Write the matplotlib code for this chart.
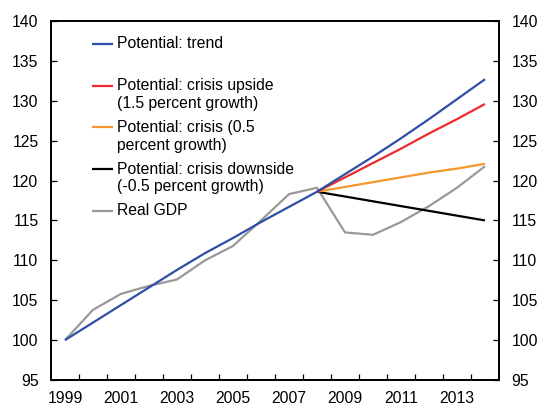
import matplotlib
matplotlib.use("Agg")
import matplotlib.pyplot as plt

plt.rcParams['font.family'] = ['Liberation Sans', 'DejaVu Sans']
plt.rcParams['font.size'] = 11.3

# Index, 1999 = 100
years = list(range(1999, 2015))
trend = [100.0, 102.2, 104.4, 106.6, 108.8, 110.9, 112.8, 114.8, 116.7, 118.6,
         120.8, 123.0, 125.3, 127.7, 130.2, 132.7]
real_gdp = [100.0, 103.8, 105.8, 106.8, 107.6, 110.0, 111.8, 115.0, 118.3, 119.1,
            113.5, 113.2, 114.8, 116.8, 119.1, 121.8]
# Crisis scenarios start from the 2008 trend level
crisis_years = list(range(2008, 2015))
crisis_up = [118.6, 120.4, 122.2, 124.0, 125.9, 127.7, 129.6]
crisis_mid = [118.6, 119.2, 119.8, 120.4, 121.0, 121.5, 122.1]
crisis_down = [118.6, 118.0, 117.4, 116.8, 116.2, 115.6, 115.0]

y_ticks = list(range(95, 141, 5))
x_labels = [str(y) for y in range(1999, 2014, 2)]

fig = plt.figure(figsize=(5.39, 4.11), dpi=100)
ax = fig.add_axes([0.0946, 0.0754, 0.8312, 0.8735])

x_all = [years.index(y) for y in years]
x_crisis = [years.index(y) for y in crisis_years]

series = [
    ("Potential: trend", x_all, trend, "#2f4fa6"),
    ("Potential: crisis upside\n(1.5 percent growth)", x_crisis, crisis_up, "#ee2a2e"),
    ("Potential: crisis (0.5\npercent growth)", x_crisis, crisis_mid, "#f7962a"),
    ("Potential: crisis downside\n(-0.5 percent growth)", x_crisis, crisis_down, "#000000"),
    ("Real GDP", x_all, real_gdp, "#999999"),
]
# gray drawn under the projections, trend on top of them
order = [4, 3, 2, 1, 0]
for i in order:
    label, xs, ys, col = series[i]
    ax.plot(xs, ys, color=col, lw=1.6, solid_capstyle='butt', zorder=3 + (4 - i) * 0.1)

ax.set_xlim(-0.5, len(years) - 0.5)
ax.set_ylim(95, 140)
ax.set_yticks(y_ticks)

ax.set_xticks(range(0, 15, 2))
ax.set_xticklabels(x_labels)
ax.set_xticks([k + 0.5 for k in range(len(years) - 1)], minor=True)
ax.tick_params(axis='x', which='major', length=0, pad=8)
ax.tick_params(axis='x', which='minor', direction='in', length=4, width=0.9)
ax.tick_params(axis='y', direction='in', length=4, width=0.9, pad=9)

ax2 = ax.twinx()
ax2.set_ylim(95, 140)
ax2.set_yticks(y_ticks)
ax2.tick_params(axis='y', direction='in', length=4, width=0.9, pad=9)

for a in (ax, ax2):
    for s in a.spines.values():
        s.set_linewidth(1.3)

# Legend: one row per series, handle level with the first text line
leg_top = 0.936
leg_step = 0.1162
line_gap = 0.0493
for k, (label, xs, ys, col) in enumerate(series):
    y0 = leg_top - k * leg_step
    ax.plot([0.0908, 0.1377], [y0, y0], color=col, lw=1.6,
            transform=ax.transAxes, solid_capstyle='butt')
    for j, part in enumerate(label.split("\n")):
        ax.text(0.148, y0 - j * line_gap, part, transform=ax.transAxes,
                va='center', ha='left')

fig.savefig("out.png", dpi=100)
